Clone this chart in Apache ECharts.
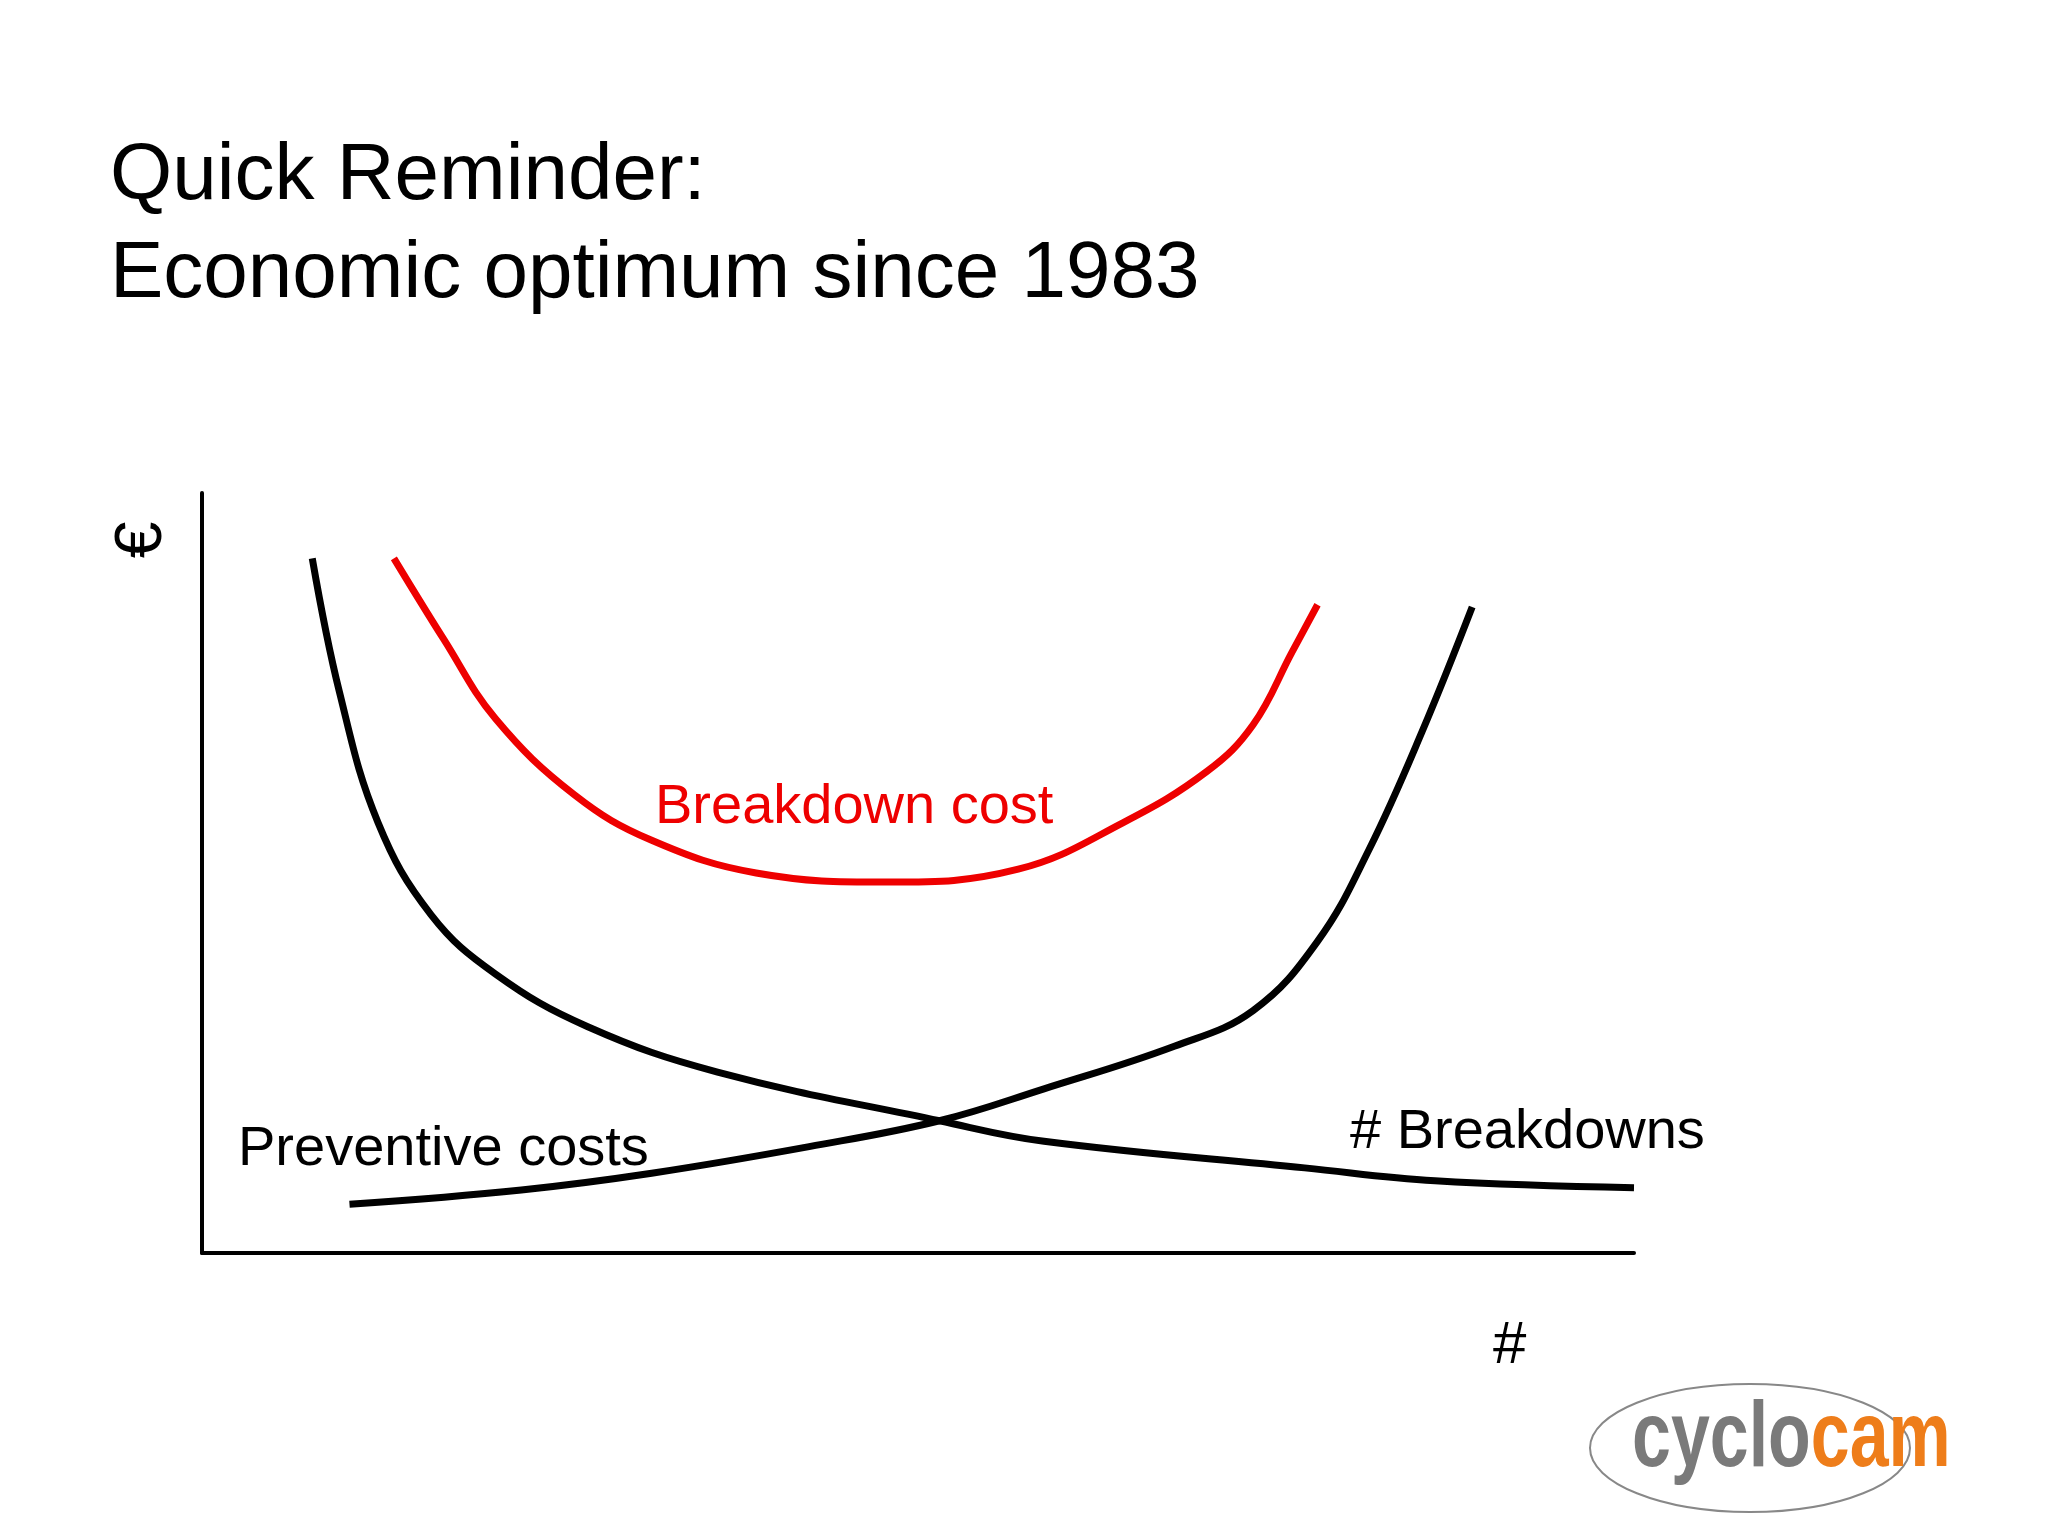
<!DOCTYPE html>
<html>
<head>
<meta charset="utf-8">
<script src="https://cdn.jsdelivr.net/npm/echarts@6/dist/echarts.min.js"></script>
<style>html,body{margin:0;padding:0;background:#fff}#main{width:2048px;height:1536px}</style>
</head>
<body>
<div id="main"></div>
<script>
// curve samples, x and y both on a 0..100 scale
const breakdownCost = [[13.4,91.4],[16.9,80.7],[20.5,70.3],[26.0,60.3],[31.4,54.3],[38.7,50.0],[47.9,48.8],[57.0,50.5],[64.3,56.6],[70.2,63.4],[73.4,69.5],[76.1,79.0],[77.9,85.3]]
const breakdowns = [[7.7,91.4],[9.6,73.8],[12.3,56.6],[16.0,44.5],[20.5,36.7],[26.9,29.8],[36.0,23.8],[51.5,17.4],[58.8,14.7],[77.0,11.2],[86.1,9.5],[100,8.6]]
const preventive = [[10.3,6.4],[22.3,8.3],[31.4,10.5],[42.4,14.0],[51.5,17.4],[58.8,21.6],[67.9,27.2],[73.4,31.9],[77.9,41.0],[81.5,53.1],[85.2,68.6],[88.7,85.0]]

const chart = echarts.init(document.getElementById('main'))
const font = 'Liberation Sans, Arial, sans-serif'

const lineSeries = (data, color) => ({
  type: 'line', data, smooth: 0.4, symbol: 'none',
  lineStyle: { color, width: 7 }
})

chart.setOption({
  animation: false,
  grid: { left: 202, top: 493, width: 1432, height: 760 },
  xAxis: {
    type: 'value', min: 0, max: 100,
    axisLine: { show: true, lineStyle: { color: '#000', width: 4 } },
    axisTick: { show: false }, axisLabel: { show: false }, splitLine: { show: false }
  },
  yAxis: {
    type: 'value', min: 0, max: 100,
    axisLine: { show: true, lineStyle: { color: '#000', width: 4 } },
    axisTick: { show: false }, axisLabel: { show: false }, splitLine: { show: false }
  },
  series: [
    lineSeries(breakdownCost, '#ee0000'),
    lineSeries(breakdowns, '#000'),
    lineSeries(preventive, '#000')
  ],
  graphic: [
    { type: 'text', left: 110, top: 128, style: { text: 'Quick Reminder:\nEconomic optimum since 1983', font: '80px ' + font, fill: '#000', lineHeight: 98 } },
    { type: 'text', left: 655, top: 780, style: { text: 'Breakdown cost', font: '56px ' + font, fill: '#ee0000' } },
    { type: 'text', left: 238, top: 1122, style: { text: 'Preventive costs', font: '56px ' + font, fill: '#000' } },
    { type: 'text', left: 1350, top: 1105, style: { text: '# Breakdowns', font: '56px ' + font, fill: '#000' } },
    { type: 'text', x: 143, y: 540, rotation: Math.PI / 2, style: { text: '€', font: '66px ' + font, fill: '#000', align: 'center', verticalAlign: 'middle' } },
    { type: 'text', left: 1493, top: 1316, style: { text: '#', font: '60px ' + font, fill: '#000' } },
    { type: 'ellipse', shape: { cx: 1750, cy: 1448, rx: 160, ry: 64 }, style: { fill: 'none', stroke: '#888', lineWidth: 2 } },
    { type: 'text', x: 1632, y: 1395, scaleX: 0.76, style: {
      text: '{a|cyclo}{b|cam}',
      rich: {
        a: { font: 'bold 92px ' + font, fill: '#7a7a7a' },
        b: { font: 'bold 92px ' + font, fill: '#ee7d1a' }
      }
    } }
  ]
})
</script>
</body>
</html>
